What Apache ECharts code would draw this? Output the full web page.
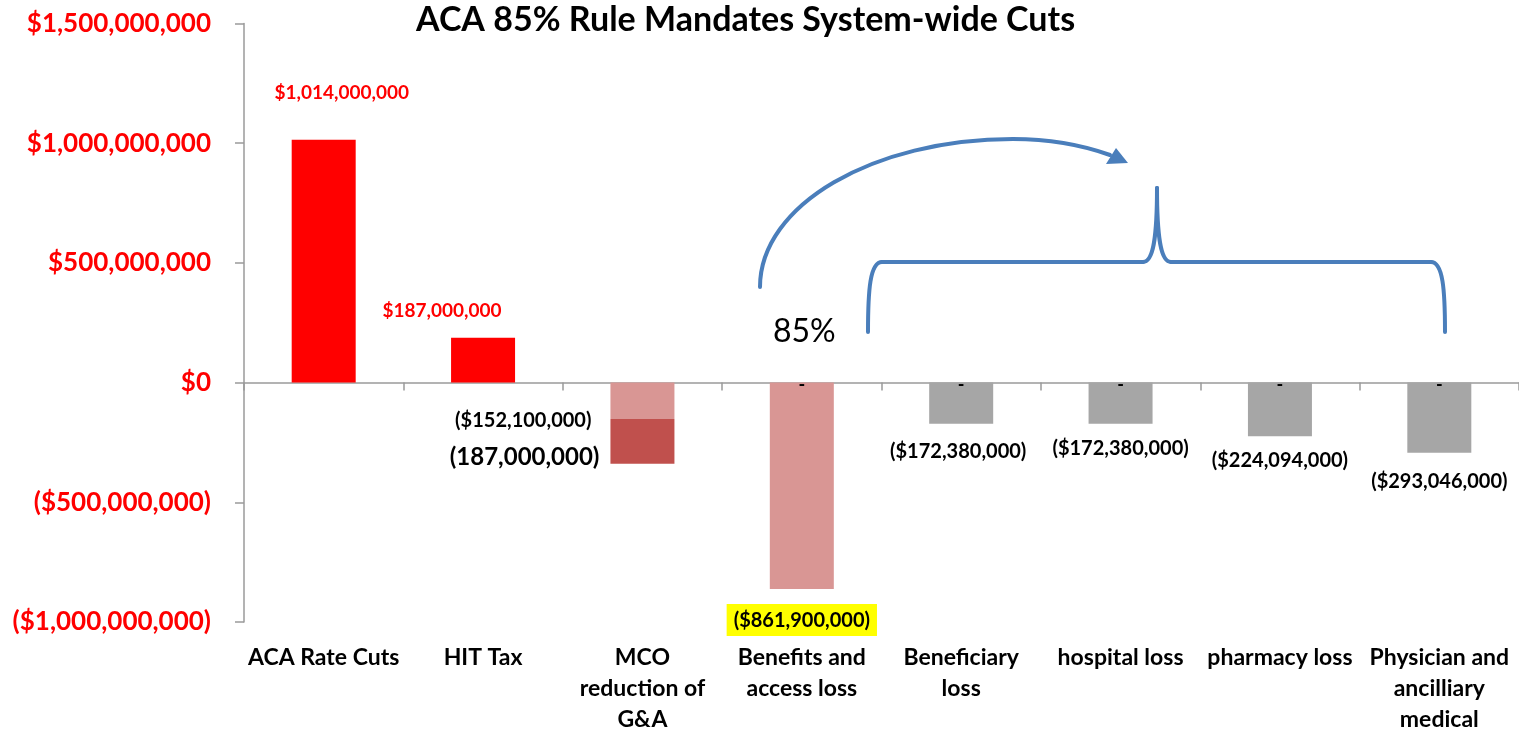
<!DOCTYPE html>
<html>
<head>
<meta charset="utf-8">
<script src="https://cdn.jsdelivr.net/npm/echarts@6/dist/echarts.min.js"></script>
<style>
  html, body { margin: 0; padding: 0; background: #ffffff; overflow: hidden; }
  #chart { width: 1519px; height: 733px; }
</style>
</head>
<body>
<div id="chart"></div>
<script>
// Categories along the horizontal axis
const categories = [
  'ACA Rate Cuts',
  'HIT Tax',
  'MCO\nreduction of\nG&A',
  'Benefits and\naccess loss',
  'Beneficiary\nloss',
  'hospital loss',
  'pharmacy loss',
  'Physician and\nancilliary\nmedical'
];

// Main amounts per category (USD)
const mainValues = [1014000000, 187000000, -152100000, -861900000, -172380000, -172380000, -224094000, -293046000];
// Additional G&A reduction stacked under the MCO bar
const gaExtra = [null, null, -187000000, null, null, null, null, null];
// Zero markers shown as "-" on the loss categories
const zeroMarks = [null, null, null, 0, 0, 0, 0, 0];

// Value axis range
const yMin = -1000000000;
const yMax = 1500000000;
const yStep = 500000000;

const FONT = 'Lato, "Open Sans", sans-serif';
const BLUE = '#4A7EBB';

const barColors = ['#FF0000', '#FF0000', '#D99694', '#D99694', '#A6A6A6', '#A6A6A6', '#A6A6A6', '#A6A6A6'];

function money(v) {
  const s = '$' + Math.abs(v).toLocaleString('en-US');
  return v < 0 ? '(' + s + ')' : s;
}

const labelBase = { show: true, fontFamily: FONT, fontWeight: 'bold', fontSize: 20, color: '#000' };
const mainLabels = [
  { position: 'top', distance: 37, offset: [18, 0], color: '#FF0000', fontSize: 19 },
  { position: 'top', distance: 17, offset: [-41, 0], color: '#FF0000', fontSize: 19 },
  { position: 'left', distance: 19, offset: [0, 20] },
  { position: 'bottom', distance: 15, backgroundColor: '#FFFF00', padding: [7, 7, 5, 7] },
  { position: 'bottom', distance: 18, offset: [-3, 0] },
  { position: 'bottom', distance: 15 },
  { position: 'bottom', distance: 14 },
  { position: 'bottom', distance: 19 }
];

// Blue annotation strokes: curved arrow and brace over the loss categories
const stroke = { fill: null, stroke: BLUE, lineWidth: 4, lineCap: 'round' };
function curve(x1, y1, cpx1, cpy1, cpx2, cpy2, x2, y2) {
  return { type: 'bezierCurve', shape: { x1, y1, cpx1, cpy1, cpx2, cpy2, x2, y2 }, style: stroke, z: 10 };
}
function seg(x1, y1, x2, y2) {
  return { type: 'line', shape: { x1, y1, x2, y2 }, style: stroke, z: 10 };
}

const chart = echarts.init(document.getElementById('chart'), null, { renderer: 'canvas', width: 1519, height: 733 });

const option = {
  backgroundColor: '#ffffff',
  animation: false,
  textStyle: { fontFamily: FONT },
  title: {
    text: 'ACA 85% Rule Mandates System-wide Cuts',
    left: 411,
    top: -2,
    textStyle: { fontFamily: FONT, fontWeight: 'bold', fontSize: 34, color: '#000' }
  },
  grid: { left: 244, right: 0, top: 23.5, bottom: 111, containLabel: false, outerBoundsMode: 'none' },
  xAxis: [
    {
      type: 'category',
      data: categories,
      axisLine: { show: true, onZero: true, lineStyle: { color: '#9A9A9A', width: 1.5 } },
      axisTick: { show: true, length: 8, alignWithLabel: false, lineStyle: { color: '#9A9A9A', width: 1.5 } },
      axisLabel: { show: false }
    },
    {
      type: 'category',
      data: categories,
      position: 'bottom',
      axisLine: { show: false, onZero: false },
      axisTick: { show: false },
      axisLabel: {
        show: true,
        interval: 0,
        margin: 20,
        fontFamily: FONT,
        fontWeight: 'bold',
        fontSize: 23,
        lineHeight: 31,
        color: '#000'
      }
    }
  ],
  yAxis: {
    type: 'value',
    min: yMin,
    max: yMax,
    interval: yStep,
    axisLine: { show: true, lineStyle: { color: '#9A9A9A', width: 1.5 } },
    axisTick: { show: true, length: 9, lineStyle: { color: '#9A9A9A', width: 1.5 } },
    splitLine: { show: false },
    axisLabel: {
      margin: 33,
      fontFamily: FONT,
      fontWeight: 'bold',
      fontSize: 26,
      color: '#FF0000',
      formatter: v => money(v)
    }
  },
  series: [
    {
      name: 'Amount',
      type: 'bar',
      stack: 'total',
      barWidth: 64,
      barGap: '-100%',
      data: mainValues.map((v, i) => ({
        value: v,
        itemStyle: { color: barColors[i] },
        label: Object.assign({}, labelBase, mainLabels[i])
      })),
      label: Object.assign({}, labelBase, { formatter: p => money(p.value) })
    },
    {
      name: 'G&A reduction',
      type: 'bar',
      stack: 'total',
      barWidth: 64,
      barGap: '-100%',
      itemStyle: { color: '#C0504D' },
      data: gaExtra,
      label: {
        show: true,
        position: 'left',
        distance: 11,
        offset: [0, 16],
        fontFamily: FONT,
        fontWeight: 'bold',
        fontSize: 24,
        color: '#000',
        formatter: p => '(' + Math.abs(p.value).toLocaleString('en-US') + ')'
      }
    },
    {
      name: 'Marker',
      type: 'bar',
      barWidth: 64,
      barGap: '-100%',
      itemStyle: { color: 'transparent' },
      data: zeroMarks,
      label: {
        show: true,
        position: 'inside',
        offset: [0, 3],
        fontFamily: FONT,
        fontWeight: 'bold',
        fontSize: 18,
        color: '#000',
        formatter: () => '-'
      }
    }
  ],
  graphic: [
    // curved arrow
    curve(760, 287, 760, 205, 873, 139, 1013, 139),
    curve(1013, 139, 1050, 139, 1082, 145, 1110, 155),
    {
      type: 'polygon',
      shape: { points: [[1106, 164], [1128, 163], [1116, 148]] },
      style: { fill: BLUE },
      z: 10
    },
    // brace
    curve(868, 332, 868, 290, 870, 262, 882, 262),
    seg(882, 262, 1143, 262),
    curve(1143, 262, 1153, 262, 1157, 240, 1157, 188),
    curve(1157, 188, 1157, 240, 1161, 262, 1171, 262),
    seg(1171, 262, 1431, 262),
    curve(1431, 262, 1443, 262, 1445, 290, 1445, 332),
    {
      type: 'text',
      left: 773,
      top: 316,
      style: { text: '85%', fontFamily: FONT, fontSize: 32, fill: '#000' }
    }
  ]
};

chart.setOption(option);
</script>
</body>
</html>
